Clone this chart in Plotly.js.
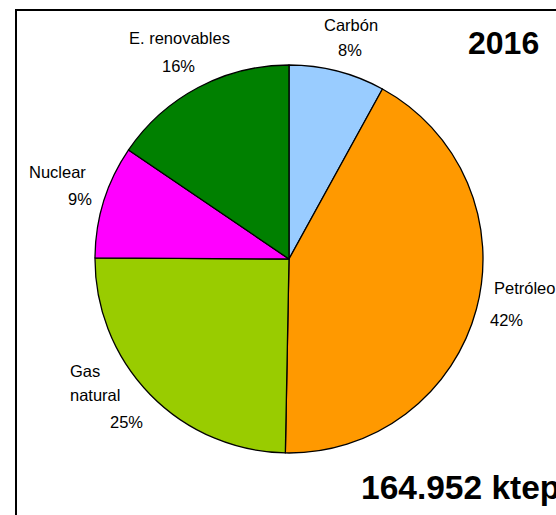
<!DOCTYPE html>
<html>
<head>
<meta charset="utf-8">
<script src="https://cdn.plot.ly/plotly-3.0.1.min.js"></script>
<style>
html,body{margin:0;padding:0;background:#fff;overflow:hidden;}
#chart{width:556px;height:515px;}
</style>
</head>
<body>
<div id="chart"></div>
<script>
// Data
const labels = ['Carbón', 'Petróleo', 'Gas natural', 'Nuclear', 'E. renovables'];
const values = [8.0, 42.3, 24.8, 9.4, 15.5];
const colors = ['#99CCFF', '#FF9900', '#99CC00', '#FF00FF', '#008000'];
const yearLabel = '2016';
const totalLabel = '164.952 ktep';

const W = 556, H = 515;
const px = x => x / W;
const py = y => 1 - y / H;

const total = values.reduce((a, b) => a + b, 0);
const pct = values.map(v => Math.round(v / total * 100) + '%');

// label placement (pixel centres) per slice
const place = {
  'Carbón': {name: ['Carbón'], x: 351, y: 25, anchor: 'center', px: 350, py: 50},
  'Petróleo': {name: ['Petróleo'], x: 492, y: 288, anchor: 'left', px: 506, py: 320},
  'Gas natural': {name: ['Gas', 'natural'], x: 68, y: 371, anchor: 'left', px: 126, py: 422, lh: 24},
  'Nuclear': {name: ['Nuclear'], x: 57, y: 172, anchor: 'center', px: 80, py: 199},
  'E. renovables': {name: ['E. renovables'], x: 179, y: 38, anchor: 'center', px: 178, py: 66}
};

const font = {family: 'Liberation Sans, Arial, sans-serif', size: 16.5, color: '#000'};
const annotations = [];
labels.forEach((l, i) => {
  const p = place[l];
  p.name.forEach((t, k) => {
    annotations.push({xref: 'paper', yref: 'paper', x: px(p.x), y: py(p.y + k * (p.lh || 0)),
      xanchor: p.anchor, yanchor: 'middle', text: t, showarrow: false, font: font});
  });
  annotations.push({xref: 'paper', yref: 'paper', x: px(p.px), y: py(p.py),
    xanchor: 'center', yanchor: 'middle', text: pct[i], showarrow: false, font: font});
});
const bold = {family: 'Liberation Sans, Arial, sans-serif', size: 32, color: '#000', weight: 'bold'};
const bold2 = {family: 'Liberation Sans, Arial, sans-serif', size: 33.5, color: '#000', weight: 'bold'};
annotations.push({xref: 'paper', yref: 'paper', x: px(503.5), y: py(43), xanchor: 'center', yanchor: 'middle',
  text: '<b>' + yearLabel + '</b>', showarrow: false, font: bold});
annotations.push({xref: 'paper', yref: 'paper', x: px(359), y: py(487), xanchor: 'left', yanchor: 'middle',
  text: '<b>' + totalLabel + '</b>', showarrow: false, font: bold2});

const cx = 289, cy = 259, r = 194;
const trace = {
  type: 'pie',
  labels: labels,
  values: values,
  sort: false,
  direction: 'clockwise',
  rotation: 0,
  marker: {colors: colors, line: {color: '#000', width: 1.3}},
  textinfo: 'none',
  hoverinfo: 'label+percent',
  showlegend: false,
  domain: {x: [px(cx - r), px(cx + r)], y: [py(cy + r), py(cy - r)]}
};

const layout = {
  width: W, height: H,
  margin: {l: 0, r: 0, t: 0, b: 0},
  paper_bgcolor: '#fff',
  showlegend: false,
  annotations: annotations,
  shapes: [{type: 'rect', xref: 'paper', yref: 'paper', x0: px(16), x1: px(620), y0: py(600), y1: py(10),
    line: {color: '#000', width: 2}, fillcolor: 'rgba(0,0,0,0)', layer: 'below'}]
};

Plotly.newPlot('chart', [trace], layout, {displayModeBar: false, staticPlot: true});
</script>
</body>
</html>
